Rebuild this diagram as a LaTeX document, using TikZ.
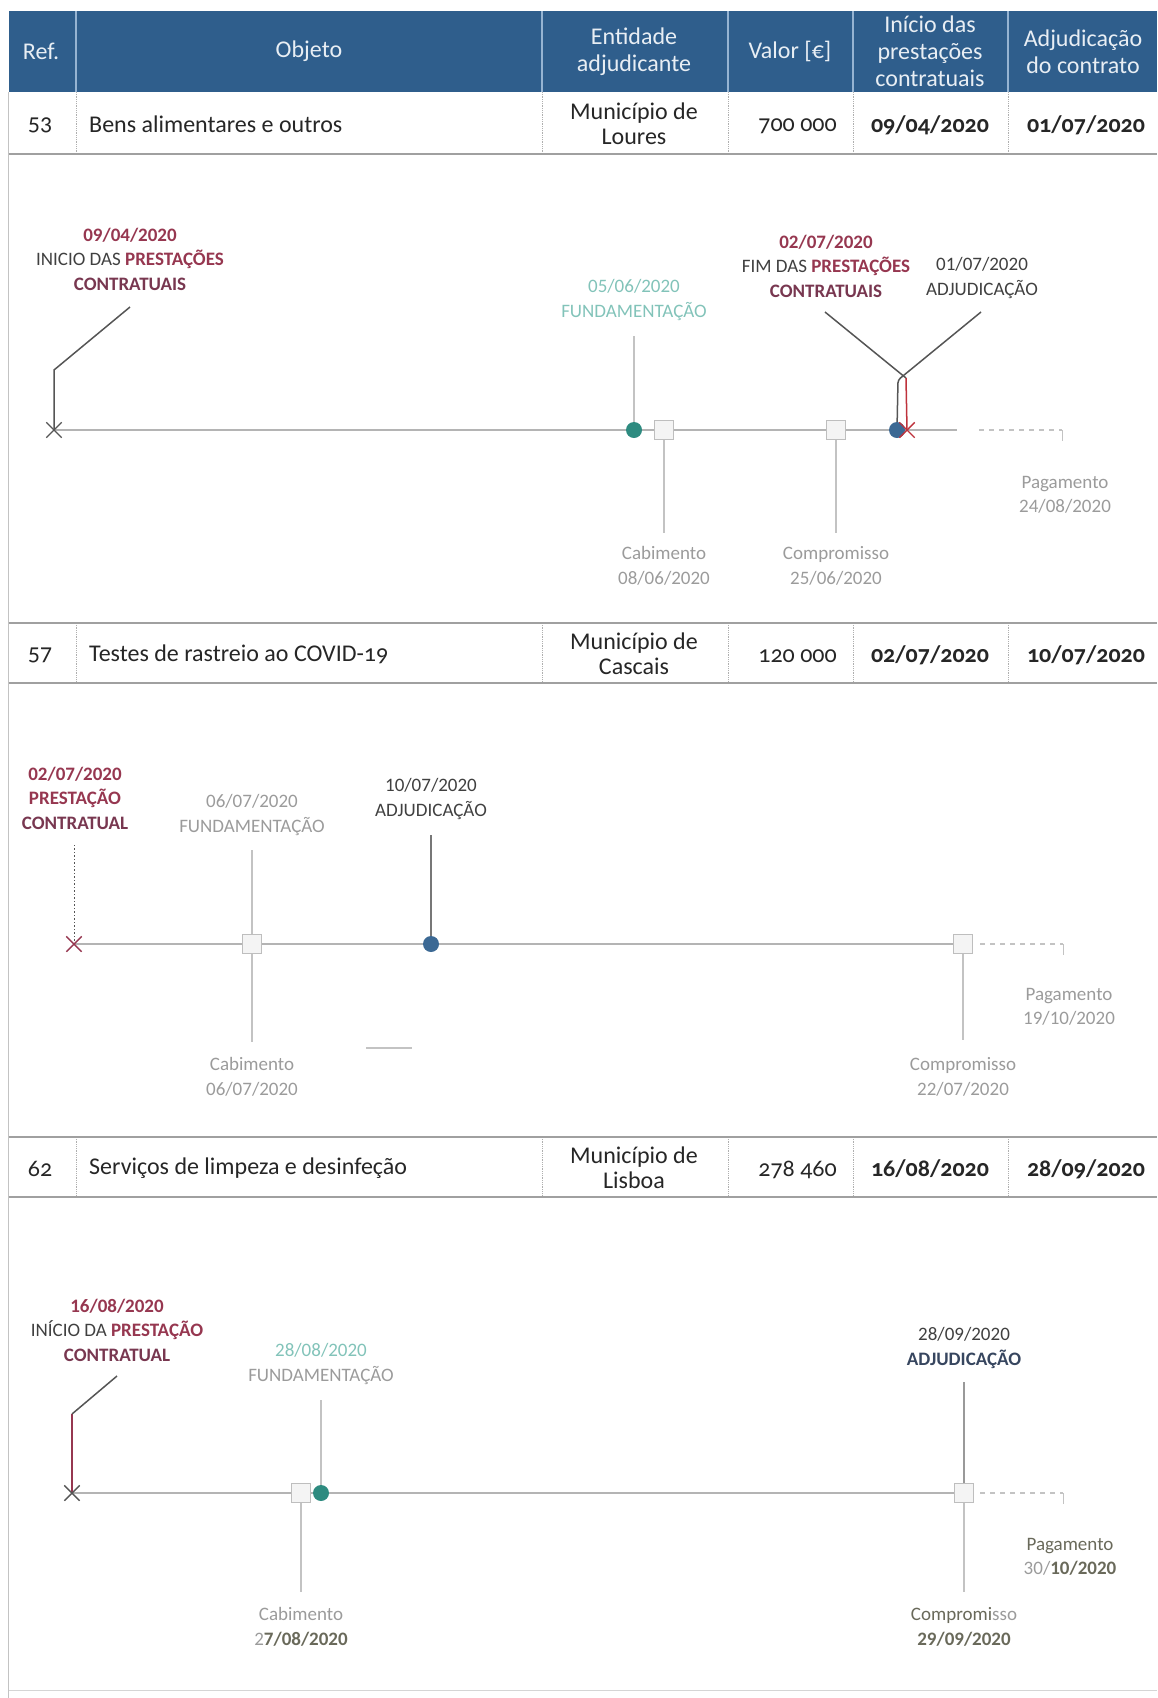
\documentclass[tikz,border=0pt]{standalone}
\usepackage{fontspec}
\setmainfont{Carlito}
\newfontfamily\tblfont{Carlito}[Numbers=OldStyle]
\usetikzlibrary{shapes.misc,backgrounds}

\definecolor{hdrblue}{RGB}{47,94,140}
\definecolor{hdrtext}{RGB}{232,238,244}
\definecolor{hdrsep}{RGB}{150,180,210}
\definecolor{rulegray}{RGB}{160,160,160}
\definecolor{sepgray}{RGB}{175,175,175}
\definecolor{axisgray}{RGB}{180,180,180}
\definecolor{leadgray}{RGB}{85,85,85}
\definecolor{faintgray}{RGB}{195,195,195}
\definecolor{lbldark}{RGB}{64,64,64}
\definecolor{lbllight}{RGB}{155,155,155}
\definecolor{maroon}{RGB}{150,55,80}
\definecolor{maroondk}{RGB}{120,55,80}
\definecolor{tealdot}{RGB}{46,139,128}
\definecolor{teallbl}{RGB}{130,195,185}
\definecolor{bluedot}{RGB}{60,105,148}
\definecolor{xred}{RGB}{190,50,60}
\definecolor{sqborder}{RGB}{190,190,190}
\definecolor{sqfill}{RGB}{244,244,244}
\definecolor{adjslate}{RGB}{55,70,95}
\definecolor{olivegray}{RGB}{105,105,90}

\tikzset{
  hdr/.style={text=hdrtext, font=\tblfont\fontsize{24}{27}\selectfont, align=center, inner sep=0},
  cell/.style={text=black!85, font=\tblfont\fontsize{24}{25}\selectfont, align=center, inner sep=0},
  datecell/.style={cell, font=\tblfont\bfseries\fontsize{24}{25}\selectfont},
  lbl/.style={font=\fontsize{19}{24.5}\selectfont, align=center, inner sep=0},
  boldlbl/.style={font=\bfseries\fontsize{19}{24.5}\selectfont, align=center, inner sep=0},
  faint/.style={lbl, text=lbllight},
  xmark/.style={cross out, draw=leadgray, line width=1.4pt, minimum size=14pt, inner sep=0},
  tdot/.style={circle, fill=tealdot, minimum size=16pt, inner sep=0},
  bdot/.style={circle, fill=bluedot, minimum size=16pt, inner sep=0},
  sq/.style={rectangle, draw=sqborder, fill=sqfill, line width=1.2pt, minimum size=19pt, inner sep=0},
  axisline/.style={draw=axisgray, line width=2pt},
  stem/.style={draw=faintgray, line width=1.3pt},
  leader/.style={draw=leadgray, line width=1.5pt},
  tailline/.style={draw=faintgray, line width=1.2pt, dash pattern=on 5pt off 5pt},
  rowrule/.style={draw=rulegray, line width=2pt},
  colsep/.style={draw=sepgray, line width=0.8pt, densely dotted},
}

\begin{document}
\begin{tikzpicture}[x=1pt, y=-1pt]
\useasboundingbox (0,0) rectangle (1157,1698);

% ---------- table header ----------
\fill[hdrblue] (8.5,11) rectangle (1157,92);
\foreach \cx in {76,542,728,853,1008}
  \draw[hdrsep, line width=1.5pt] (\cx,11) -- (\cx,92);
\node[hdr] (hRef) at (41,51) {Ref.};
\node[hdr] (hObj) at (309,51) {Objeto};
\node[hdr] (hEnt) at (634,52) {Entidade\\adjudicante};
\node[hdr] (hVal) at (790,51) {Valor [€]};
\node[hdr] (hIni) at (930,51) {Início das\\prestações\\contratuais};
\node[hdr] (hAdj) at (1083,52) {Adjudicação\\do contrato};

% left border of the panel
\draw[faintgray, line width=1.2pt] (8.5,92) -- (8.5,1698);

% ---------- data rows ----------
\foreach \ytop/\ybot in {92/154, 623/683, 1137/1197}{
  \foreach \cx in {76,542,728,853,1008}
    \draw[colsep] (\cx,\ytop) -- (\cx,\ybot);
}
\draw[rowrule] (8.5,154) -- (1157,154);
\draw[rowrule] (8.5,623) -- (1157,623);
\draw[rowrule] (8.5,683) -- (1157,683);
\draw[rowrule] (8.5,1137) -- (1157,1137);
\draw[rowrule] (8.5,1197) -- (1157,1197);

\node[cell] (r1ref) at (40,125) {53};
\node[cell, anchor=west] (r1obj) at (89,124) {Bens alimentares e outros};
\node[cell] (r1ent) at (634,124) {Município de\\Loures};
\node[cell, anchor=east] (r1val) at (837,126) {700~000};
\node[datecell] (r1ini) at (930,125) {09/04/2020};
\node[datecell] (r1adj) at (1086,125) {01/07/2020};

\node[cell] (r2ref) at (40,655) {57};
\node[cell, anchor=west] (r2obj) at (89,654) {Testes de rastreio ao COVID-19};
\node[cell] (r2ent) at (634,654) {Município de\\Cascais};
\node[cell, anchor=east] (r2val) at (837,656) {120~000};
\node[datecell] (r2ini) at (930,655) {02/07/2020};
\node[datecell] (r2adj) at (1086,655) {10/07/2020};

\node[cell] (r3ref) at (40,1169) {62};
\node[cell, anchor=west] (r3obj) at (89,1168) {Serviços de limpeza e desinfeção};
\node[cell] (r3ent) at (634,1168) {Município de\\Lisboa};
\node[cell, anchor=east] (r3val) at (837,1170) {278~460};
\node[datecell] (r3ini) at (930,1169) {16/08/2020};
\node[datecell] (r3adj) at (1086,1169) {28/09/2020};

% ---------- timeline 1 (ref 53) ----------
\node[xmark] (a1) at (54,430) {};
\node[tdot] (a2) at (634,430) {};
\node[sq] (a3) at (664,430) {};
\node[sq] (a4) at (836,430) {};
\node[bdot] (a5) at (897,430) {};
\node[xmark, draw=xred] (a6) at (907,430) {};
\coordinate (a1top) at (130,307);
\coordinate (a2top) at (634,336);
\coordinate (a3bot) at (664,533);
\coordinate (a4bot) at (836,533);
\coordinate (a5top) at (981,312);
\coordinate (a6top) at (825,312);
\coordinate (a7) at (957,430);
\coordinate (a8) at (979,430);
\coordinate (a9) at (1062,430);
\coordinate (a9b) at (1062,441);

\node[lbl] (a1l) at (130,259) {\textcolor{maroon}{\bfseries 09/04/2020}\\\textcolor{lbldark}{INICIO DAS} \textcolor{maroon}{\bfseries PRESTAÇÕES}\\\textcolor{maroondk}{\bfseries CONTRATUAIS}};
\node[lbl, text=teallbl] (a2l) at (634,300) {05/06/2020\\FUNDAMENTAÇÃO};
\node[faint] (a3l) at (664,566) {Cabimento\\08/06/2020};
\node[faint] (a4l) at (836,566) {Compromisso\\25/06/2020};
\node[lbl, text=lbldark] (a5l) at (982,278) {01/07/2020\\ADJUDICAÇÃO};
\node[lbl] (a6l) at (826,266) {\textcolor{maroon}{\bfseries 02/07/2020}\\\textcolor{lbldark}{FIM DAS} \textcolor{maroon}{\bfseries PRESTAÇÕES}\\\textcolor{maroondk}{\bfseries CONTRATUAIS}};
\node[faint] (a9l) at (1065,495) {Pagamento\\24/08/2020};

% ---------- timeline 2 (ref 57) ----------
\node[xmark, draw=maroon] (b1) at (74,944) {};
\node[sq] (b2) at (252,944) {};
\node[bdot] (b3) at (431,944) {};
\node[sq] (b4) at (963,944) {};
\coordinate (b1top) at (74,843);
\coordinate (b2top) at (252,850);
\coordinate (b2bot) at (252,1042);
\coordinate (b3top) at (431,835);
\coordinate (b4bot) at (963,1040);
\coordinate (b6) at (980,944);
\coordinate (b7) at (1063,944);
\coordinate (b7b) at (1063,955);
\coordinate (bm1) at (366,1048);
\coordinate (bm2) at (412,1048);

\node[boldlbl] (b1l) at (75,798) {\textcolor{maroon}{02/07/2020}\\\textcolor{maroon}{PRESTAÇÃO}\\\textcolor{maroondk}{CONTRATUAL}};
\node[faint] (b2l) at (252,815) {06/07/2020\\FUNDAMENTAÇÃO};
\node[lbl, text=lbldark] (b3l) at (431,799) {10/07/2020\\ADJUDICAÇÃO};
\node[faint] (b2m) at (252,1077) {Cabimento\\06/07/2020};
\node[faint] (b4l) at (963,1077) {Compromisso\\22/07/2020};
\node[faint] (b7l) at (1069,1007) {Pagamento\\19/10/2020};

% ---------- timeline 3 (ref 62) ----------
\node[xmark] (c1) at (72,1493) {};
\node[sq] (c2) at (301,1493) {};
\node[tdot] (c3) at (321,1493) {};
\node[sq] (c4) at (964,1493) {};
\coordinate (c1k) at (72,1414);
\coordinate (c1top) at (117,1376);
\coordinate (c2bot) at (301,1592);
\coordinate (c3top) at (321,1400);
\coordinate (c4top) at (964,1382);
\coordinate (c4bot) at (964,1592);
\coordinate (c6) at (980,1493);
\coordinate (c7) at (1063,1493);
\coordinate (c7b) at (1063,1504);

\node[lbl] (c1l) at (117,1330) {\textcolor{maroon}{\bfseries 16/08/2020}\\\textcolor{lbldark}{INÍCIO DA} \textcolor{maroon}{\bfseries PRESTAÇÃO}\\\textcolor{maroondk}{\bfseries CONTRATUAL}};
\node[lbl] (c3l) at (321,1364) {\textcolor{teallbl}{28/08/2020}\\\textcolor{lbllight}{FUNDAMENTAÇÃO}};
\node[lbl] (c4l) at (964,1348) {\textcolor{lbldark}{28/09/2020}\\\textcolor{adjslate}{\bfseries ADJUDICAÇÃO}};
\node[lbl] (c2l) at (301,1627) {\textcolor{lbllight}{Cabimento}\\\textcolor{lbllight}{2}\textcolor{olivegray}{\bfseries 7/08/2020}};
\node[lbl] (c4m) at (964,1627) {\textcolor{olivegray}{Compromi}\textcolor{lbllight}{sso}\\\textcolor{olivegray}{\bfseries 29/09/2020}};
\node[lbl] (c7l) at (1070,1557) {\textcolor{olivegray}{Pagamento}\\\textcolor{lbllight}{30/}\textcolor{olivegray}{\bfseries 10/2020}};

% ---------- connectors, behind the markers ----------
\begin{scope}[on background layer]
  % timeline 1
  \draw[axisline] (a1.center) -- (a7);
  \draw[tailline] (a8) -- (a9);
  \draw[stem, line width=1pt] (a9) -- (a9b);
  \draw[leader] (a1.center) -- (54,370) -- (a1top);
  \draw[stem] (a2.center) -- (a2top);
  \draw[stem] (a3.center) -- (a3bot);
  \draw[stem] (a4.center) -- (a4bot);
  \draw[leader, rounded corners=3pt] (a5top) -- (898,380) -- (a5.center);
  \draw[leader] (a6top) -- (906,378);
  \draw[xred, line width=1.5pt] (906,378) -- (a6.center);
  % timeline 2
  \draw[axisline] (b1.center) -- (b4.center);
  \draw[tailline] (b6) -- (b7);
  \draw[stem, line width=1pt] (b7) -- (b7b);
  \draw[leader, dotted, line width=1pt] (b1.center) -- (b1top);
  \draw[stem] (b2top) -- (b2bot);
  \draw[draw=leadgray!80, line width=1.5pt] (b3.center) -- (b3top);
  \draw[stem] (b4.center) -- (b4bot);
  \draw[faintgray, line width=1.5pt] (bm1) -- (bm2);
  % timeline 3
  \draw[axisline] (c1.center) -- (c4.center);
  \draw[tailline] (c6) -- (c7);
  \draw[stem, line width=1pt] (c7) -- (c7b);
  \draw[maroon, line width=1.5pt] (c1.center) -- (c1k);
  \draw[leader] (c1k) -- (c1top);
  \draw[stem] (c2.center) -- (c2bot);
  \draw[stem] (c3.center) -- (c3top);
  \draw[draw=leadgray!60, line width=1.4pt] (c4.center) -- (c4top);
  \draw[stem] (c4.center) -- (c4bot);
\end{scope}

% faint closing rule at the foot of the panel
\draw[faintgray!70, line width=1pt] (8.5,1690) -- (1157,1690);
\end{tikzpicture}
\end{document}
